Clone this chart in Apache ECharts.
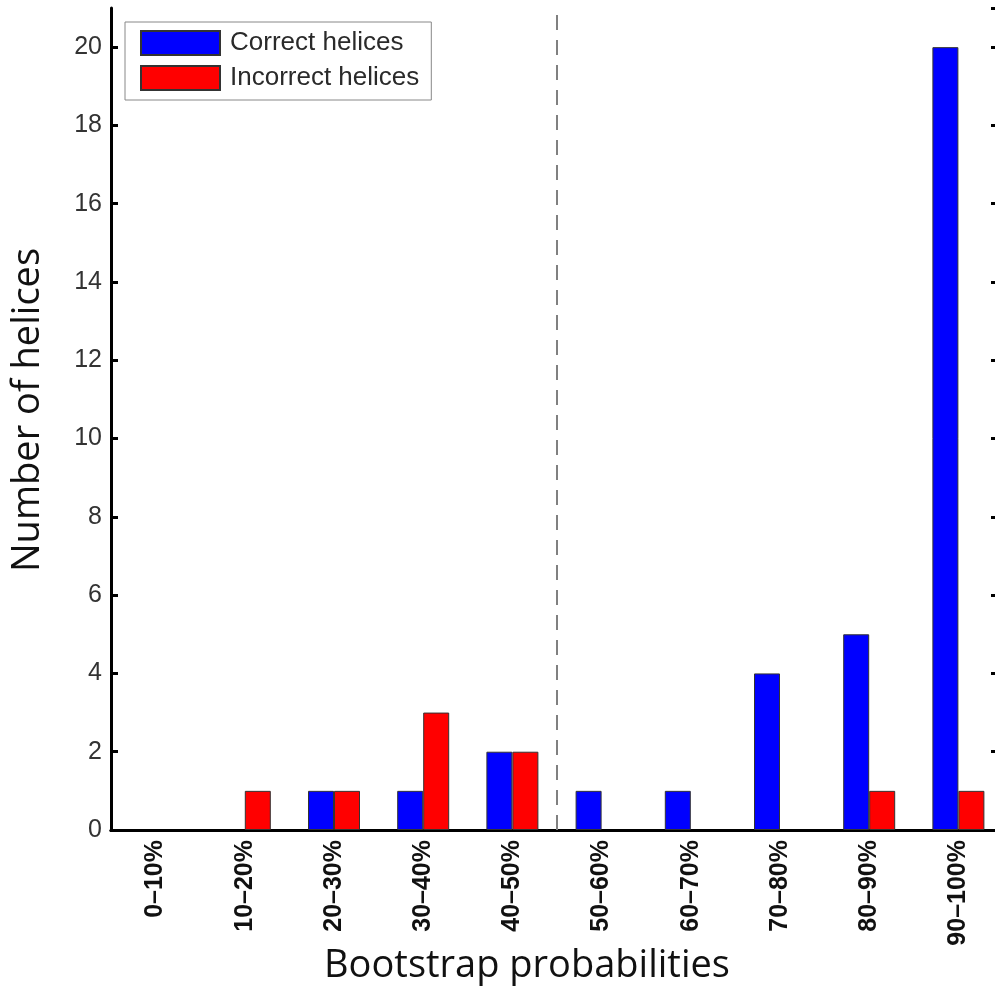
<!DOCTYPE html>
<html>
<head>
<meta charset="utf-8">
<script src="https://cdn.jsdelivr.net/npm/echarts@6/dist/echarts.min.js"></script>
<style>html,body{margin:0;padding:0;background:#fff}#c{width:995px;height:987px}</style>
</head>
<body>
<div id="c"></div>
<script>
const categories = ['0–10%','10–20%','20–30%','30–40%','40–50%','50–60%','60–70%','70–80%','80–90%','90–100%'];
const correctHelices = [0,0,1,1,2,1,1,4,5,20];
const incorrectHelices = [0,1,1,3,2,0,0,0,1,1];
const thresholdPosition = 5.5; // between 40–50% and 50–60% (1-based category index)
const yMin = 0, yMax = 21, yStep = 2;

const hideZero = v => (v === 0 ? null : v);
const chart = echarts.init(document.getElementById('c'), null, {renderer:'canvas'});
const gridLeft = 111, gridTop = 8, gridWidth = 892, gridBottom = 157;
const axisLineStyle = {color:'#000', width:3};
chart.setOption({
  animation:false,
  backgroundColor:'#fff',
  grid:{left:gridLeft, top:gridTop, width:gridWidth, bottom:gridBottom, containLabel:false, outerBoundsMode:'none'},
  legend:{
    left:125, top:22, orient:'vertical', icon:'rect',
    itemWidth:79, itemHeight:24, itemGap:9,
    padding:[8,12,9,15],
    backgroundColor:'#fff', borderColor:'#888', borderWidth:1,
    textStyle:{fontFamily:'Liberation Sans', fontSize:26, lineHeight:24, color:'#2a2a2a', padding:[0,0,0,5]},
    data:['Correct helices','Incorrect helices']
  },
  xAxis:[
    {type:'category', data:categories, position:'bottom', boundaryGap:true,
     axisLine:{lineStyle:axisLineStyle},
     axisTick:{inside:true, alignWithLabel:true, length:8, lineStyle:{color:'#000', width:3}},
     axisLabel:{rotate:90, margin:10, fontFamily:'Liberation Sans', fontWeight:'bold', fontSize:25, color:'#111', interval:0},
     splitLine:{show:false}},
    {type:'category', data:categories, position:'top', boundaryGap:true,
     axisLine:{lineStyle:axisLineStyle},
     axisTick:{inside:true, alignWithLabel:true, length:8, lineStyle:{color:'#000', width:3}},
     axisLabel:{show:false}, splitLine:{show:false}},
    {type:'value', min:0.5, max:10.5, show:false}
  ],
  yAxis:[
    {type:'value', min:yMin, max:yMax, interval:yStep, position:'left',
     axisLine:{show:true, lineStyle:axisLineStyle},
     axisTick:{show:true, inside:true, length:7, lineStyle:{color:'#000', width:3}},
     axisLabel:{margin:9, fontFamily:'Liberation Sans', fontSize:25, color:'#333', showMaxLabel:false},
     splitLine:{show:false}},
    {type:'value', min:yMin, max:yMax, interval:yStep, position:'right',
     axisLine:{show:true, lineStyle:axisLineStyle},
     axisTick:{show:true, inside:true, length:12, lineStyle:{color:'#000', width:3}},
     axisLabel:{show:false}, splitLine:{show:false}}
  ],
  series:[
    {name:'Correct helices', type:'bar', data:correctHelices.map(hideZero), xAxisIndex:0, yAxisIndex:0,
     barWidth:26, barGap:'0%', itemStyle:{color:'#0000ff', borderColor:'#333', borderWidth:1}},
    {name:'Incorrect helices', type:'bar', data:incorrectHelices.map(hideZero), xAxisIndex:0, yAxisIndex:0,
     barWidth:26, barGap:'0%', itemStyle:{color:'#ff0000', borderColor:'#333', borderWidth:1}},
    {name:'threshold', type:'line', xAxisIndex:2, yAxisIndex:0, silent:true, symbol:'none',
     data:[[thresholdPosition, yMin],[thresholdPosition, yMax]],
     lineStyle:{color:'#808080', width:2, type:[15,10]}, z:1}
  ],
  graphic:[
    {type:'text', x:527, y:947, style:{text:'Bootstrap probabilities', font:'38px "Open Sans"', fill:'#111', align:'center', verticalAlign:'top'}},
    {type:'text', x:9, y:410, rotation:Math.PI/2,
     style:{text:'Number of helices', font:'38px "Open Sans"', fill:'#111', align:'center', verticalAlign:'top'}}
  ]
});
</script>
</body>
</html>
